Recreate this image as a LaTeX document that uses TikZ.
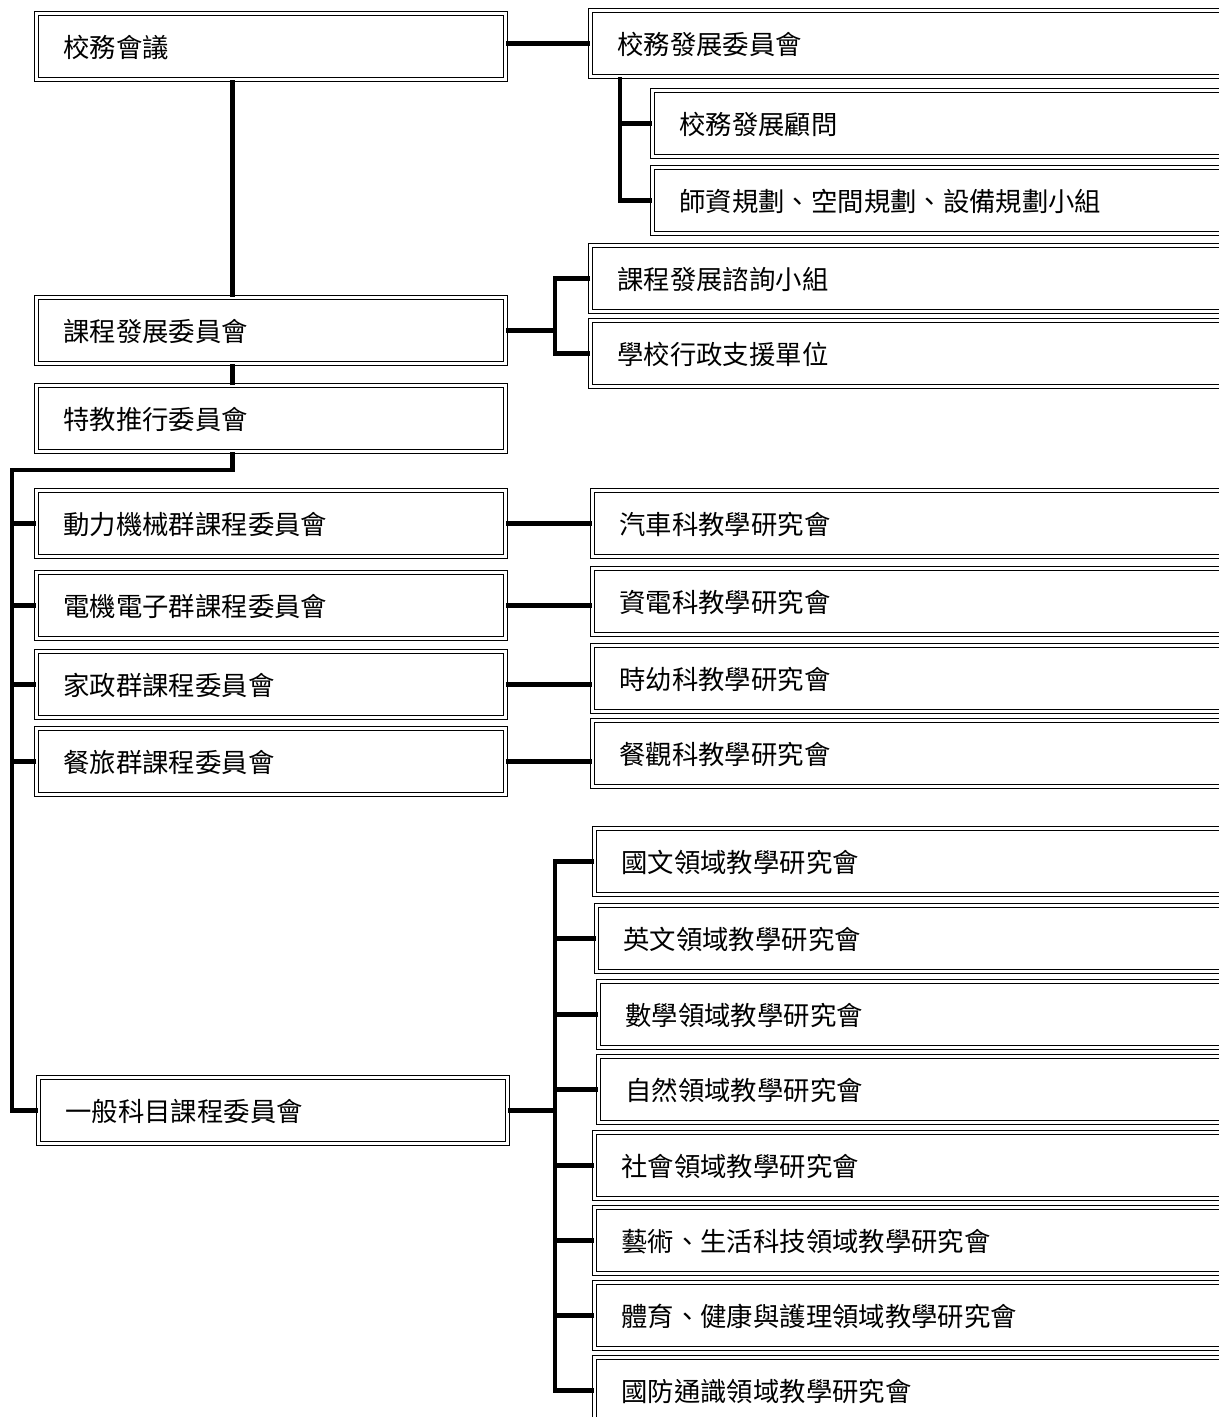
\documentclass[tikz,border=0pt]{standalone}
\usepackage{fontspec}
\setmainfont{Noto Sans CJK TC}
\usetikzlibrary{calc}

\tikzset{
  box/.style={draw, double, line width=0.6pt, double distance=1.5pt,
    anchor=north west, inner xsep=0.54cm, inner ysep=0pt,
    text height=1.2em, text depth=0pt, minimum height=1.32cm,
    font=\fontsize{15pt}{18pt}\selectfont},
  lbox/.style={box, text width=8.3cm},
  rbox/.style={box, text width=12cm},
  link/.style={line width=2.4pt}
}

\begin{document}
\begin{tikzpicture}[x=0.02cm,y=-0.02cm]
  \useasboundingbox (0,0) rectangle (1219,1417);
  \clip (0,0) rectangle (1219,1417);

  % left column
  \node[lbox] (a) at (36,13) {校務會議};
  \node[lbox] (c) at (36,297) {課程發展委員會};
  \node[lbox] (s) at (36,385) {特教推行委員會};
  \node[lbox] (g1) at (36,490) {動力機械群課程委員會};
  \node[lbox] (g2) at (36,572) {電機電子群課程委員會};
  \node[lbox] (g3) at (36,651) {家政群課程委員會};
  \node[lbox] (g4) at (36,728) {餐旅群課程委員會};
  \node[lbox] (g5) at (38,1077) {一般科目課程委員會};

  % right column
  \node[rbox] (b) at (590,10) {校務發展委員會};
  \node[rbox] (b1) at (652,90) {校務發展顧問};
  \node[rbox] (b2) at (652,167) {師資規劃、空間規劃、設備規劃小組};
  \node[rbox] (c1) at (590,245) {課程發展諮詢小組};
  \node[rbox] (c2) at (590,320) {學校行政支援單位};
  \node[rbox] (d1) at (592,490) {汽車科教學研究會};
  \node[rbox] (d2) at (592,568) {資電科教學研究會};
  \node[rbox] (d3) at (592,645) {時幼科教學研究會};
  \node[rbox] (d4) at (592,720) {餐觀科教學研究會};
  \node[rbox] (e1) at (594,828) {國文領域教學研究會};
  \node[rbox] (e2) at (596,905) {英文領域教學研究會};
  \node[rbox] (e3) at (598,981) {數學領域教學研究會};
  \node[rbox] (e4) at (598,1056) {自然領域教學研究會};
  \node[rbox] (e5) at (594,1132) {社會領域教學研究會};
  \node[rbox] (e6) at (594,1207) {藝術、生活科技領域教學研究會};
  \node[rbox] (e7) at (594,1282) {體育、健康與護理領域教學研究會};
  \node[rbox] (e8) at (594,1357) {國防通識領域教學研究會};

  % junctions
  \coordinate (ax) at ($(a.south west)!0.418!(a.south east)$);
  \coordinate (sx) at ($(s.south west)!0.418!(s.south east)$);
  \coordinate (bx) at ($(b.south west)+(30,0)$);
  \coordinate (L) at (12,470);
  \coordinate (cj) at (555,330);
  \coordinate (ej) at (555,1110);

  % connectors
  \draw[link] (b.west -| a.east) -- (b.west);
  \draw[link] (bx) |- (b2.west);
  \draw[link] (bx |- b1.west) -- (b1.west);
  \draw[link] (ax) -- (ax |- c.north);
  \draw[link] (ax |- c.south) -- (ax |- s.north);
  \draw[link] (c.east) -- (c.east -| cj);
  \draw[link] (c1.west) -| (cj) |- (c2.west);
  \draw[link] (sx) |- (L) |- (g5.west);
  \draw[link] (L |- g1.west) -- (g1.west);
  \draw[link] (L |- g2.west) -- (g2.west);
  \draw[link] (L |- g3.west) -- (g3.west);
  \draw[link] (L |- g4.west) -- (g4.west);
  \draw[link] (g1.east) -- (g1.east -| d1.west);
  \draw[link] (g2.east) -- (g2.east -| d2.west);
  \draw[link] (g3.east) -- (g3.east -| d3.west);
  \draw[link] (g4.east) -- (g4.east -| d4.west);
  \draw[link] (g5.east) -- (g5.east -| ej);
  \draw[link] (e1.west) -| (ej) |- (e8.west);
  \draw[link] (ej |- e2.west) -- (e2.west);
  \draw[link] (ej |- e3.west) -- (e3.west);
  \draw[link] (ej |- e4.west) -- (e4.west);
  \draw[link] (ej |- e5.west) -- (e5.west);
  \draw[link] (ej |- e6.west) -- (e6.west);
  \draw[link] (ej |- e7.west) -- (e7.west);
\end{tikzpicture}
\end{document}
